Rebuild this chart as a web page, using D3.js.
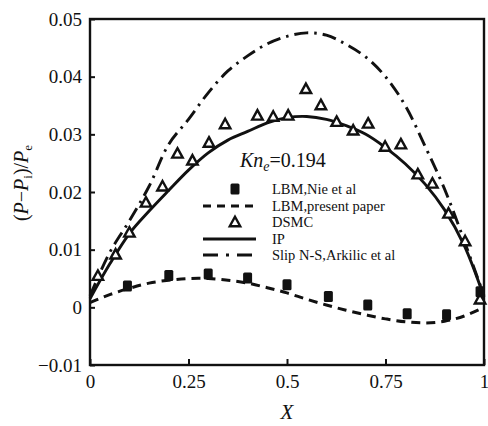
<!DOCTYPE html>
<html><head><meta charset="utf-8">
<script src="https://cdn.jsdelivr.net/npm/d3@7"></script>
<style>
html,body{margin:0;padding:0;background:#fff;}
svg{display:block;font-family:"Liberation Serif","Times New Roman",serif;}
</style></head>
<body><svg id="c" width="488" height="426"></svg>
<script>
// ---- data ----
const xTicks = [0, 0.25, 0.5, 0.75, 1];
const xTickLabels = ["0", "0.25", "0.5", "0.75", "1"];
const yTicks = [0.05, 0.04, 0.03, 0.02, 0.01, 0, -0.01];
const yTickLabels = ["0.05", "0.04", "0.03", "0.02", "0.01", "0", "\u22120.01"];

const curveX = [0,0.05,0.1,0.15,0.2,0.25,0.3,0.35,0.4,0.45,0.5,0.55,0.6,0.65,0.7,0.75,0.8,0.85,0.9,0.95,1.0];
const ipY   = [0.0015,0.0075,0.0128,0.0167,0.0203,0.0238,0.0268,0.0290,0.0305,0.0320,0.0329,0.0331,0.0326,0.0315,0.0300,0.0277,0.0249,0.0214,0.0169,0.0107,0.0018];
const slipY = [0.0020,0.0095,0.0150,0.0210,0.0283,0.0326,0.0372,0.0410,0.0436,0.0457,0.0470,0.0476,0.0472,0.0456,0.0434,0.0400,0.0350,0.0280,0.0205,0.0115,0.0020];
const lbmPresentY = [0.0008,0.0022,0.0033,0.0042,0.0047,0.0050,0.0050,0.0047,0.0042,0.0034,0.0025,0.0014,0.0004,-0.0005,-0.0013,-0.0020,-0.0025,-0.0027,-0.0024,-0.0015,0.0000];

const nieX = [0.095,0.2,0.3,0.4,0.5,0.605,0.705,0.805,0.905,0.99];
const nieY = [0.0037,0.0055,0.0058,0.0051,0.0039,0.0019,0.0004,-0.0011,-0.0013,0.0027];

const dsmcX = [0.02,0.065,0.10,0.142,0.184,0.222,0.26,0.302,0.343,0.425,0.465,0.503,0.548,0.586,0.626,0.668,0.706,0.749,0.789,0.832,0.869,0.91,0.952,0.99];
const dsmcY = [0.0055,0.0092,0.0130,0.0182,0.0210,0.0267,0.0255,0.0286,0.0318,0.0333,0.0331,0.0333,0.0379,0.0351,0.0322,0.0307,0.0319,0.0279,0.0283,0.0231,0.0215,0.0163,0.0115,0.0014];

const legendLabels = ["LBM,Nie et al","LBM,present paper","DSMC","IP","Slip N-S,Arkilic et al"];

// ---- layout ----
const svg = d3.select("#c");
const m = {l:90, r:4, t:19, b:61};
const W = 488, H = 426;
const x = d3.scaleLinear().domain([0,1]).range([m.l, W-m.r]);
const y = d3.scaleLinear().domain([-0.01,0.05]).range([H-m.b, m.t]);

const ink = "#111";

// axes
const xAxis = d3.axisBottom(x).tickValues(xTicks).tickSize(-6).tickPadding(10)
  .tickFormat((d,i)=>xTickLabels[i]);
const yAxis = d3.axisLeft(y).tickValues(yTicks).tickSize(-5).tickPadding(8)
  .tickFormat((d,i)=>yTickLabels[i]);

const gx = svg.append("g").attr("transform",`translate(0,${H-m.b})`).call(xAxis);
const gy = svg.append("g").attr("transform",`translate(${m.l},0)`).call(yAxis);
[gx,gy].forEach(g=>{
  g.select(".domain").remove();
  g.selectAll(".tick line").attr("stroke",ink).attr("stroke-width",2);
  g.selectAll(".tick text").attr("fill",ink).style("font-size","19px")
    .style("font-family","'Liberation Serif',serif");
});
gx.selectAll(".tick text").attr("dy","0.71em");

// frame
svg.append("rect").attr("x",m.l).attr("y",m.t).attr("width",W-m.r-m.l).attr("height",H-m.b-m.t)
  .attr("fill","none").attr("stroke",ink).attr("stroke-width",2.4);

// curves
const line = (ys)=>d3.line().x((d,i)=>x(curveX[i])).y(d=>y(d)).curve(d3.curveCatmullRom.alpha(0.5))(ys);

svg.append("path").attr("d",line(slipY)).attr("fill","none").attr("stroke",ink)
  .attr("stroke-width",2.9).attr("stroke-dasharray","14,6,2.5,6");
svg.append("path").attr("d",line(ipY)).attr("fill","none").attr("stroke",ink)
  .attr("stroke-width",2.9);
svg.append("path").attr("d",line(lbmPresentY)).attr("fill","none").attr("stroke",ink)
  .attr("stroke-width",3).attr("stroke-dasharray","9,6");

// markers
function tri(cx,cy){ const s=9.5; return `M${cx},${cy-s*0.55}L${cx+s*0.55},${cy+s*0.45}L${cx-s*0.55},${cy+s*0.45}Z`; }
svg.append("g").selectAll("path").data(dsmcX).join("path")
  .attr("d",(d,i)=>tri(x(d),y(dsmcY[i]))).attr("fill","#fff").attr("stroke",ink).attr("stroke-width",2.4);

svg.append("g").selectAll("rect").data(nieX).join("rect")
  .attr("x",d=>x(d)-4.5).attr("y",(d,i)=>y(nieY[i])-5.5).attr("width",9).attr("height",11)
  .attr("rx",1.5).attr("fill",ink);

// annotation Kn_e = 0.194
const kn = svg.append("text").attr("x",240).attr("y",167).attr("fill",ink).style("font-size","20px");
kn.append("tspan").text("Kn").style("font-style","italic");
kn.append("tspan").text("e").style("font-style","italic").style("font-size","14px").attr("dy",4);
kn.append("tspan").text("=0.194").attr("dy",-4);

// legend
const lg = svg.append("g");
const lx0 = 203, lx1 = 256, lcx = 235, tx = 272;
const rowsY = [189, 206, 222, 239, 255];
lg.append("rect").attr("x",lcx-4.5).attr("y",rowsY[0]-5.5).attr("width",9).attr("height",11).attr("rx",1.5).attr("fill",ink);
lg.append("line").attr("x1",lx0).attr("x2",lx1).attr("y1",rowsY[1]).attr("y2",rowsY[1])
  .attr("stroke",ink).attr("stroke-width",3).attr("stroke-dasharray","8,6");
lg.append("path").attr("d",tri(lcx,rowsY[2])).attr("fill","#fff").attr("stroke",ink).attr("stroke-width",2.4);
lg.append("line").attr("x1",lx0).attr("x2",lx1).attr("y1",rowsY[3]).attr("y2",rowsY[3])
  .attr("stroke",ink).attr("stroke-width",2.9);
lg.append("line").attr("x1",lx0).attr("x2",lx1).attr("y1",rowsY[4]).attr("y2",rowsY[4])
  .attr("stroke",ink).attr("stroke-width",2.9).attr("stroke-dasharray","15,8,3,8");
lg.selectAll("text").data(legendLabels).join("text")
  .attr("x",tx).attr("y",(d,i)=>rowsY[i]+5).attr("fill",ink).style("font-size","14.5px").text(d=>d);

// axis titles
svg.append("text").attr("x",287).attr("y",419).attr("text-anchor","middle").attr("fill",ink)
  .style("font-size","21px").style("font-style","italic").text("X");

const yt = svg.append("text").attr("transform","translate(28,183) rotate(-90)")
  .attr("text-anchor","middle").attr("fill",ink).style("font-size","20px");
yt.append("tspan").text("(");
yt.append("tspan").text("P").style("font-style","italic");
yt.append("tspan").text("\u2212");
yt.append("tspan").text("P").style("font-style","italic");
yt.append("tspan").text("i").style("font-size","13px").attr("dy",4);
yt.append("tspan").text(")/").attr("dy",-4);
yt.append("tspan").text("P").style("font-style","italic");
yt.append("tspan").text("e").style("font-size","13px").attr("dy",4);
</script></body></html>
